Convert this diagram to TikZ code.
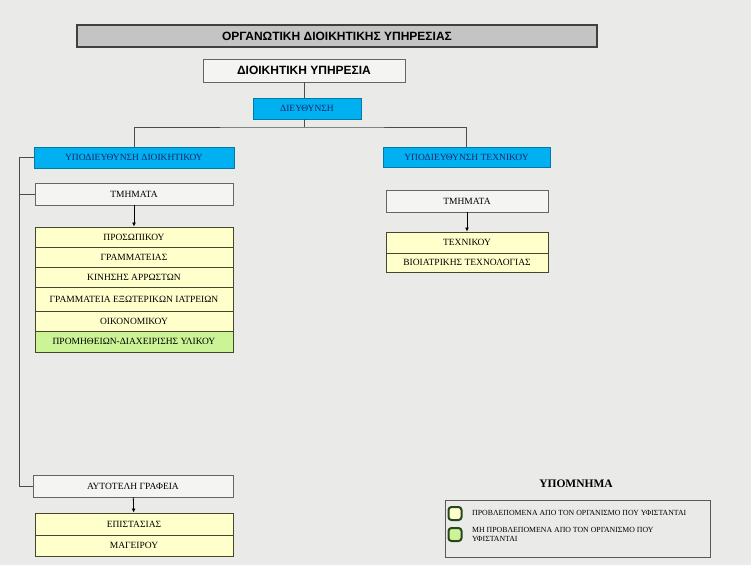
\documentclass[tikz,border=0pt]{standalone}
\usepackage{fontspec}
\setmainfont{Liberation Serif}
\newfontfamily\arialfont{Liberation Sans}
\usetikzlibrary{arrows.meta}
\definecolor{bgcol}{RGB}{234,234,232}
\definecolor{titlegray}{RGB}{196,196,196}
\definecolor{boxwhite}{RGB}{244,244,242}
\definecolor{cyanfill}{RGB}{0,176,240}
\definecolor{navytext}{RGB}{20,40,110}
\definecolor{yellowfill}{RGB}{255,255,204}
\definecolor{greenfill}{RGB}{204,244,150}
\definecolor{olivedark}{RGB}{70,70,45}
\definecolor{legendgreen}{RGB}{40,70,30}
\begin{document}
\begin{tikzpicture}[x=1pt,y=-1pt,
    plain/.style={draw=gray!80!black, fill=boxwhite, inner sep=0pt, font=\fontsize{9.5}{11}\selectfont},
    blue/.style={draw=cyanfill!70!black, fill=cyanfill, inner sep=0pt, text=navytext, font=\fontsize{9.5}{11}\selectfont},
    row/.style={draw=olivedark, line width=0.9pt, fill=yellowfill, inner sep=0pt, font=\fontsize{9.5}{11}\selectfont},
    line/.style={draw=gray!60!black, line width=0.8pt},
    arr/.style={draw=black, line width=0.8pt, -{Latex[length=4pt,width=4pt]}},
    mark box/.style={draw=legendgreen, line width=2pt, rounded corners=3pt, minimum size=13pt, inner sep=0pt}]
  % Φόντο
  \fill[bgcol] (0,0) rectangle (751,565);
  \useasboundingbox (0,0) rectangle (751,565);

  % Τίτλος
  \node[draw=black!75, line width=1.5pt, fill=titlegray, minimum width=520pt, minimum height=22pt, inner sep=0pt,
    font=\arialfont\bfseries\fontsize{12}{13}\selectfont] (title) at (337,36) {ΟΡΓΑΝΩΤΙΚΗ ΔΙΟΙΚΗΤΙΚΗΣ ΥΠΗΡΕΣΙΑΣ};
  \node[plain, minimum width=202pt, minimum height=23pt, font=\arialfont\bfseries\fontsize{12}{13}\selectfont] (dioik) at (304,70.5) {ΔΙΟΙΚΗΤΙΚΗ ΥΠΗΡΕΣΙΑ};
  \node[blue, minimum width=108pt, minimum height=21pt] (dieuth) at (307,108.5) {ΔΙΕΥΘΥΝΣΗ};

  % Υποδιευθύνσεις
  \node[blue, minimum width=200pt, minimum height=21pt] (ypodioik) at (134,157.5) {ΥΠΟΔΙΕΥΘΥΝΣΗ ΔΙΟΙΚΗΤΙΚΟΥ};
  \node[blue, minimum width=167pt, minimum height=20pt] (ypotech) at (466.5,157.5) {ΥΠΟΔΙΕΥΘΥΝΣΗ ΤΕΧΝΙΚΟΥ};

  % Σύνδεση
  \coordinate (bus) at (304,127);
  \draw[line] (dioik.south -| bus) -- (dieuth.north -| bus);
  \draw[line] (dieuth.south -| bus) -- (bus);
  \draw[line] (ypodioik.north) |- (bus) -| (ypotech.north);

  % Τμήματα διοικητικού
  \node[plain, minimum width=198pt, minimum height=22pt] (tmL) at (134,194) {ΤΜΗΜΑΤΑ};
  \node[row, minimum width=198pt, minimum height=20pt] (prosop) at (134,237) {ΠΡΟΣΩΠΙΚΟΥ};
  \node[row, minimum width=198pt, minimum height=20pt] (gramm) at (134,257) {ΓΡΑΜΜΑΤΕΙΑΣ};
  \node[row, minimum width=198pt, minimum height=20pt] (kinisi) at (134,277) {ΚΙΝΗΣΗΣ ΑΡΡΩΣΤΩΝ};
  \node[row, minimum width=198pt, minimum height=24pt] (exoter) at (134,299) {ΓΡΑΜΜΑΤΕΙΑ ΕΞΩΤΕΡΙΚΩΝ ΙΑΤΡΕΙΩΝ};
  \node[row, minimum width=198pt, minimum height=20pt] (oikon) at (134,321) {ΟΙΚΟΝΟΜΙΚΟΥ};
  \node[row, fill=greenfill, minimum width=198pt, minimum height=21pt] (promith) at (134,341.5) {ΠΡΟΜΗΘΕΙΩΝ-ΔΙΑΧΕΙΡΙΣΗΣ ΥΛΙΚΟΥ};
  \draw[arr] (tmL) -- (prosop);

  % Τμήματα τεχνικού
  \node[plain, minimum width=162pt, minimum height=22pt] (tmR) at (467,201) {ΤΜΗΜΑΤΑ};
  \node[row, minimum width=162pt, minimum height=21pt] (techn) at (467,242.5) {ΤΕΧΝΙΚΟΥ};
  \node[row, minimum width=162pt, minimum height=19pt] (bioiatr) at (467,262.5) {ΒΙΟΙΑΤΡΙΚΗΣ ΤΕΧΝΟΛΟΓΙΑΣ};
  \draw[arr] (tmR) -- (techn);

  % Αυτοτελή γραφεία
  \node[plain, minimum width=200pt, minimum height=22pt] (autot) at (133,486) {ΑΥΤΟΤΕΛΗ ΓΡΑΦΕΙΑ};
  \node[row, minimum width=198pt, minimum height=22pt] (epist) at (134,524) {ΕΠΙΣΤΑΣΙΑΣ};
  \node[row, minimum width=198pt, minimum height=21pt] (mageir) at (134,545.5) {ΜΑΓΕΙΡΟΥ};
  \draw[arr] (autot) -- (epist);

  % Αριστερή γραμμή
  \coordinate (left) at (19,157.5);
  \draw[line] (ypodioik.west) -- (left) |- (autot.west);
  \draw[line] (left) |- (tmL.west);

  % Υπόμνημα
  \node[font=\bfseries\fontsize{11.5}{12}\selectfont] (ypomn) at (576,484) {ΥΠΟΜΝΗΜΑ};
  \node[draw=gray!70!black, line width=0.8pt, minimum width=265pt, minimum height=57pt, inner sep=0pt] (legbox) at (577.5,528.5) {};
  \node[mark box, fill=yellowfill] (mk1) at (455,513.5) {};
  \node[mark box, fill=greenfill] (mk2) at (455,534.5) {};
  \node[anchor=west, inner sep=0pt, font=\fontsize{7.8}{8.5}\selectfont] (lg1) at (472,513) {ΠΡΟΒΛΕΠΟΜΕΝΑ ΑΠΟ ΤΟΝ ΟΡΓΑΝΙΣΜΟ ΠΟΥ ΥΦΙΣΤΑΝΤΑΙ};
  \node[anchor=north west, inner sep=0pt, align=left, font=\fontsize{7.8}{9}\selectfont] (lg2) at (472,527.5) {ΜΗ ΠΡΟΒΛΕΠΟΜΕΝΑ ΑΠΟ ΤΟΝ ΟΡΓΑΝΙΣΜΟ ΠΟΥ\\ΥΦΙΣΤΑΝΤΑΙ};
\end{tikzpicture}
\end{document}
